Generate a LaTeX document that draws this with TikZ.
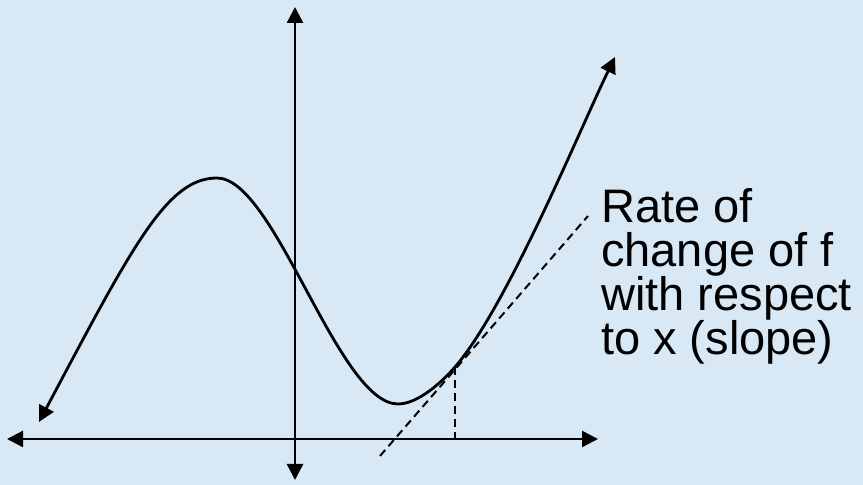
\documentclass[tikz,border=0pt]{standalone}
\usepackage{fontspec}
\setmainfont{Liberation Sans}
\usetikzlibrary{arrows.meta}
\definecolor{slidebg}{HTML}{D9E8F5}

\begin{document}
\begin{tikzpicture}[x=1pt,y=1pt,
  >={Triangle[width=16pt,length=16pt]},
  axisline/.style={line width=2.4pt,<->},
  graphline/.style={line width=2.8pt,<->},
  helpline/.style={line width=2pt,dash pattern=on 8pt off 5pt}]
\fill[slidebg] (0,0) rectangle (863,485);
\useasboundingbox (0,0) rectangle (863,485);
\coordinate (xleft) at (7,46);
\coordinate (xright) at (598,46);
\coordinate (ybottom) at (295,5);
\coordinate (ytop) at (295,478);
\coordinate (lefttip) at (39,63);
\coordinate (peak) at (217,307);
\coordinate (valley) at (398,81);
\coordinate (touch) at (455,118);
\coordinate (righttip) at (615,428);
\coordinate (tanlow) at (380,29);
\coordinate (tanhigh) at (588,269);
\draw[axisline] (xleft) -- (xright);
\draw[axisline] (ybottom) -- (ytop);
\draw[graphline] (lefttip) .. controls (133,240) and (167,307) .. (peak)
  .. controls (275,307) and (338,81) .. (valley)
  .. controls (418,81) and (442,103) .. (touch)
  .. controls (507,178) and (580,356) .. (righttip);
\draw[helpline] (tanlow) -- (tanhigh);
\draw[helpline] (touch) -- (touch |- xleft);
\node[anchor=base west,align=left,inner sep=0pt,font=\fontsize{47}{44.3}\selectfont]
  (ratelabel) at (601,130) {Rate of\\change of f\\with respect\\to x (slope)};
\end{tikzpicture}
\end{document}
